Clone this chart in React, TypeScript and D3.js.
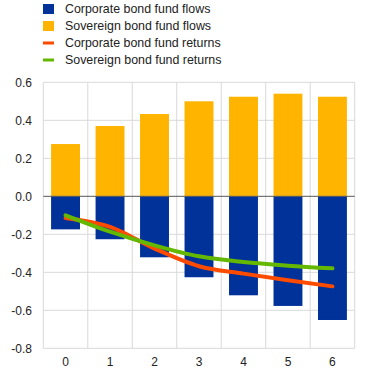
import React from "react";
import * as d3 from "d3";

const categories = ["0", "1", "2", "3", "4", "5", "6"];
const corporateFlows = [-0.174, -0.226, -0.321, -0.426, -0.521, -0.577, -0.651];
const sovereignFlows = [0.275, 0.37, 0.433, 0.5, 0.524, 0.54, 0.524];
const corporateReturns = [-0.114, -0.161, -0.275, -0.368, -0.407, -0.442, -0.474];
const sovereignReturns = [-0.1, -0.186, -0.258, -0.316, -0.346, -0.365, -0.379];
const yTicks = [0.6, 0.4, 0.2, 0.0, -0.2, -0.4, -0.6, -0.8];

const legendItems = [
  { label: "Corporate bond fund flows", color: "#003299", type: "rect" },
  { label: "Sovereign bond fund flows", color: "#FFB400", type: "rect" },
  { label: "Corporate bond fund returns", color: "#FF4B00", type: "line" },
  { label: "Sovereign bond fund returns", color: "#65B800", type: "line" },
];

export default function App() {
  const W = 371, H = 390;
  const left = 43.3, right = 354.7, top = 82.3, bottom = 348.3;
  const x = d3.scaleBand<string>().domain(categories).range([left, right]).paddingInner(0.35).paddingOuter(0.175);
  const xb = d3.scaleBand<string>().domain(categories).range([left, right]);
  const y = d3.scaleLinear().domain([-0.8, 0.6]).range([bottom, top]);
  const line = d3
    .line<number>()
    .x((_, i) => (xb(categories[i]) as number) + xb.bandwidth() / 2)
    .y((d) => y(d))
    .curve(d3.curveMonotoneX);
  const font = "'Liberation Sans', Arial, sans-serif";
  const grid = "#D9D9D9";
  const boundaries = categories.map((c) => xb(c) as number).concat([right]);

  return (
    <svg width={W} height={H} style={{ position: "absolute", left: 0, top: 0 }} fontFamily={font}>
      {legendItems.map((it, i) => {
        const cy = 9 + i * 17;
        return (
          <g key={it.label}>
            {it.type === "rect" ? (
              <rect x={43} y={cy - 5} width={11} height={10} fill={it.color} />
            ) : (
              <rect x={43} y={cy - 1.5} width={11} height={3} fill={it.color} />
            )}
            <text x={65} y={cy} dy="0.35em" fontSize={12.4} fill="#222">
              {it.label}
            </text>
          </g>
        );
      })}
      {yTicks.map((t) => (
        <g key={t}>
          {t !== 0 && <line x1={left} x2={right} y1={y(t)} y2={y(t)} stroke={grid} strokeWidth={1} />}
          <text x={32} y={y(t)} dy="0.35em" textAnchor="end" fontSize={12} fill="#222">
            {t.toFixed(1)}
          </text>
        </g>
      ))}
      {boundaries.map((bx, i) => (
        <line key={i} x1={bx} x2={bx} y1={top} y2={bottom} stroke={grid} strokeWidth={1} />
      ))}
      {categories.map((c, i) => (
        <g key={c}>
          <rect x={x(c)} width={x.bandwidth()} y={y(sovereignFlows[i])} height={y(0) - y(sovereignFlows[i])} fill="#FFB400" />
          <rect x={x(c)} width={x.bandwidth()} y={y(0)} height={y(corporateFlows[i]) - y(0)} fill="#003299" />
          <text x={(xb(c) as number) + xb.bandwidth() / 2} y={362} dy="0.35em" textAnchor="middle" fontSize={12} fill="#222">
            {c}
          </text>
        </g>
      ))}
      <line x1={left} x2={right} y1={y(0)} y2={y(0)} stroke="#555" strokeWidth={1} />
      <path d={line(corporateReturns) || ""} fill="none" stroke="#FF4B00" strokeWidth={4} strokeLinecap="round" />
      <path d={line(sovereignReturns) || ""} fill="none" stroke="#65B800" strokeWidth={4} strokeLinecap="round" />
    </svg>
  );
}
